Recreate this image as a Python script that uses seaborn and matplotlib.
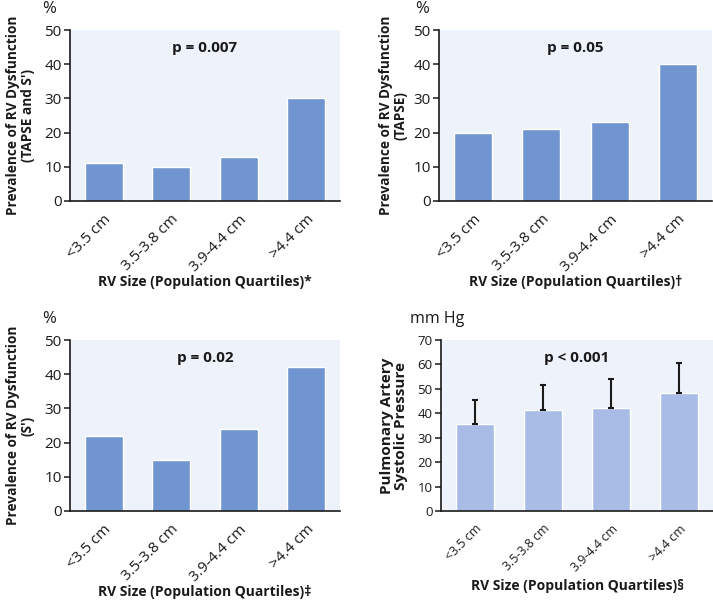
import matplotlib
matplotlib.use("Agg")
import matplotlib.pyplot as plt
import seaborn as sns
import numpy as np

sns.set_theme(style="white")
plt.rcParams['font.family'] = ['Open Sans', 'DejaVu Sans']

categories = ["<3.5 cm", "3.5-3.8 cm", "3.9-4.4 cm", ">4.4 cm"]

tapse_s_vals = [11, 10, 13, 30]
tapse_vals = [20, 21, 23, 40]
s_vals = [22, 15, 24, 42]
pasp_vals = [35.8, 41.2, 42.1, 48.2]
pasp_upper = [45.3, 51.6, 54.1, 60.7]

p_texts = ["p = 0.007", "p = 0.05", "p = 0.02", "p < 0.001"]
ylabels = ["Prevalence of RV Dysfunction\n(TAPSE and S')",
           "Prevalence of RV Dysfunction\n(TAPSE)",
           "Prevalence of RV Dysfunction\n(S')",
           "Pulmonary Artery\nSystolic Pressure"]
xlabels = ["RV Size (Population Quartiles)*",
           "RV Size (Population Quartiles)\u2020",
           "RV Size (Population Quartiles)\u2021",
           "RV Size (Population Quartiles)\u00a7"]
units = ["%", "%", "%", "mm Hg"]

BAR = "#7095d0"
BAR_LIGHT = "#a9bce5"
BG = "#eef2fa"
INK = "#1a1a1a"

W, H = 713, 600
fig = plt.figure(figsize=(W / 100, H / 100), dpi=100)

# axes boxes in pixels: left, top, right, bottom
boxes = [(70, 30, 340, 201), (439, 30, 712, 201), (70, 340, 340, 511), (441, 340, 713, 511)]
ylab_x = [-0.13, -0.114, -0.13, -0.121]
unit_x = [-0.078, -0.062, -0.078, -0.015]
datasets = [tapse_s_vals, tapse_vals, s_vals, pasp_vals]

for i, (l, t, r, b) in enumerate(boxes):
    ax = fig.add_axes([l / W, 1 - b / H, (r - l) / W, (b - t) / H])
    ax.set_facecolor(BG)
    vals = datasets[i]
    small = (i == 3)
    color = BAR_LIGHT if small else BAR
    sns.barplot(x=categories, y=vals, color=color, saturation=1, width=0.56, ax=ax)
    ax.set_xlim(-0.5, 3.5)
    if small:
        err = np.array(pasp_upper) - np.array(pasp_vals)
        ax.errorbar(np.arange(len(categories)), pasp_vals,
                    yerr=[np.zeros(len(err)), err], fmt="none",
                    ecolor=INK, elinewidth=1.5, capsize=2.0, capthick=1.5)
        ax.set_ylim(0, 70)
        ax.set_yticks(range(0, 71, 10))
    else:
        ax.set_ylim(0, 50)
        ax.set_yticks(range(0, 51, 10))
    for s in ["top", "right"]:
        ax.spines[s].set_visible(False)
    for s in ["left", "bottom"]:
        ax.spines[s].set_color(INK)
        ax.spines[s].set_linewidth(1.2)
    ax.tick_params(axis="y", left=True, length=4, width=1.1, color=INK,
                   labelsize=9.5 if small else 11, labelcolor=INK, pad=2)
    ax.tick_params(axis="x", bottom=False, labelsize=9 if small else 11,
                   labelcolor=INK, pad=2)
    plt.setp(ax.get_xticklabels(), rotation=45, ha="right", rotation_mode="anchor")
    ax.set_ylabel(ylabels[i], fontsize=11 if small else 9.8, fontweight="bold",
                  color=INK, linespacing=1.05)
    ax.yaxis.set_label_coords(ylab_x[i], 0.5)
    ax.set_xlabel(xlabels[i], fontsize=10, fontweight="bold", color=INK)
    ax.xaxis.set_label_coords(0.5, -0.40 if small else -0.433)
    ax.text(0.5, 0.895, p_texts[i], transform=ax.transAxes, ha="center", va="center",
            fontsize=11, fontweight="bold", color=INK)
    ax.text(unit_x[i], 1.12, units[i], transform=ax.transAxes,
            ha="center", va="center",
            fontsize=11.5 if small else 12, color=INK)

fig.savefig("out.png", dpi=100, facecolor="white")
